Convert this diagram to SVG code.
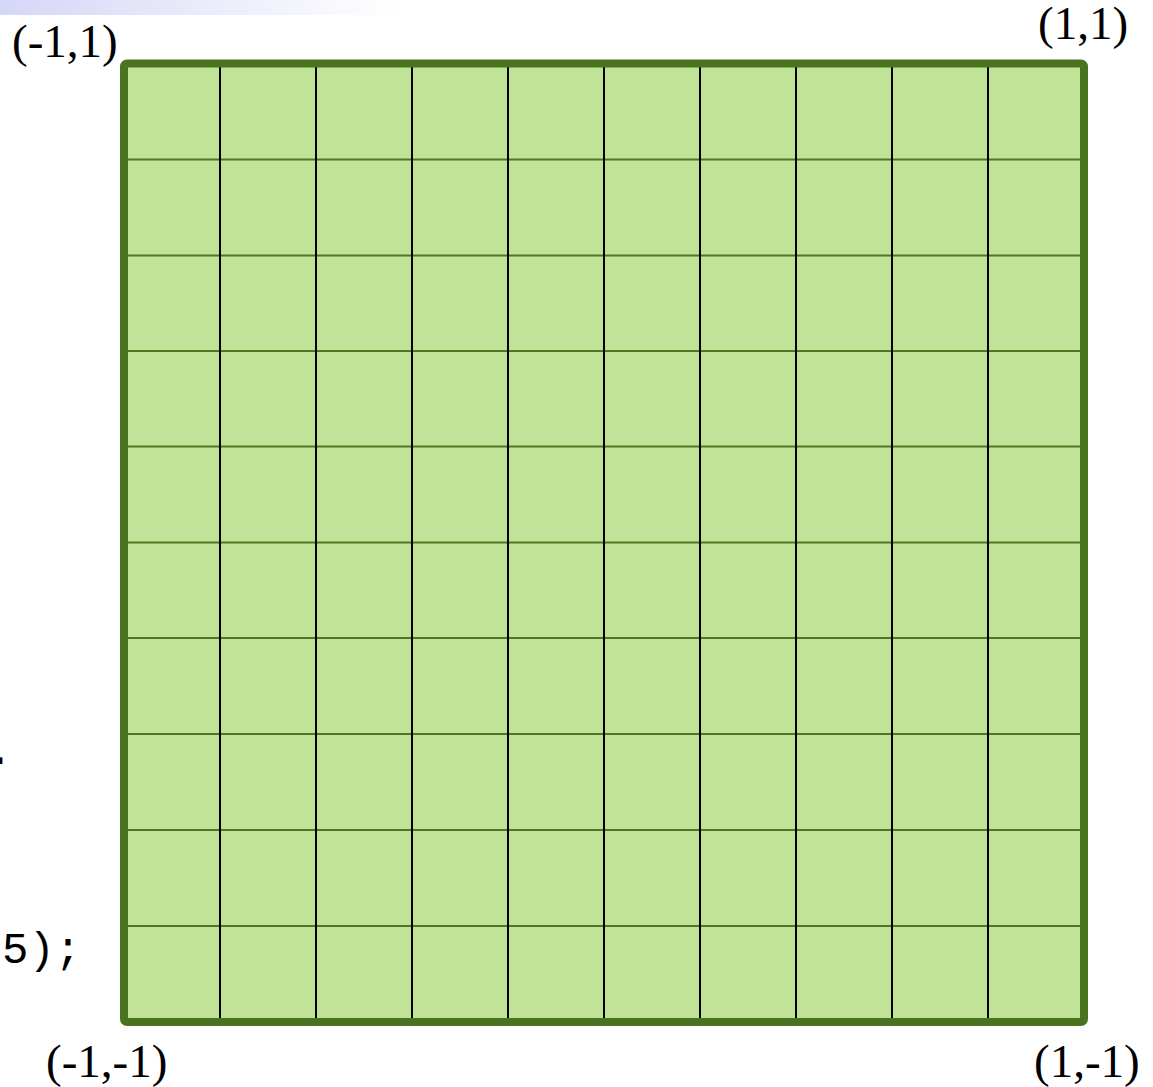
<svg xmlns="http://www.w3.org/2000/svg" width="1153" height="1087" viewBox="0 0 1153 1087">
<style>
.lbl{font-family:"Liberation Serif","Times New Roman",serif;font-size:47px;fill:#000}
.code{font-family:"Liberation Mono","Courier New",monospace;font-size:44px;fill:#000}
.v{stroke:#000;stroke-width:2}
.h{stroke:#4b7a1f;stroke-width:2}
</style>
<defs>
<linearGradient id="bar" x1="0" y1="0" x2="1" y2="0">
<stop offset="0" stop-color="#d6d6f7"/>
<stop offset="1" stop-color="#ffffff"/>
</linearGradient>
</defs>
<rect x="0" y="0" width="400" height="15" fill="url(#bar)"/>
<text class="code" x="-14" y="764" font-weight="bold">.</text>
<text class="code" x="2" y="963">5);</text>
<g id="square">
<rect x="124" y="63.5" width="960" height="958.5" rx="3" fill="#c0e398"/>
<g id="grid-h">
<line class="h" x1="128" y1="159.5" x2="1080" y2="159.5"/>
<line class="h" x1="128" y1="255.5" x2="1080" y2="255.5"/>
<line class="h" x1="128" y1="351" x2="1080" y2="351"/>
<line class="h" x1="128" y1="446.5" x2="1080" y2="446.5"/>
<line class="h" x1="128" y1="542.5" x2="1080" y2="542.5"/>
<line class="h" x1="128" y1="638" x2="1080" y2="638"/>
<line class="h" x1="128" y1="734" x2="1080" y2="734"/>
<line class="h" x1="128" y1="830" x2="1080" y2="830"/>
<line class="h" x1="128" y1="926" x2="1080" y2="926"/>
</g>
<g id="grid-v">
<line class="v" x1="220" y1="63" x2="220" y2="1022"/>
<line class="v" x1="316" y1="63" x2="316" y2="1022"/>
<line class="v" x1="412" y1="63" x2="412" y2="1022"/>
<line class="v" x1="508" y1="63" x2="508" y2="1022"/>
<line class="v" x1="604" y1="63" x2="604" y2="1022"/>
<line class="v" x1="700" y1="63" x2="700" y2="1022"/>
<line class="v" x1="796" y1="63" x2="796" y2="1022"/>
<line class="v" x1="892" y1="63" x2="892" y2="1022"/>
<line class="v" x1="988" y1="63" x2="988" y2="1022"/>
</g>
<rect x="124" y="63.5" width="960" height="958.5" rx="3" fill="none" stroke="#4a731f" stroke-width="8"/>
</g>
<g id="labels">
<text id="tl" class="lbl" x="12" y="57">(-1,1)</text>
<text id="tr" class="lbl" x="1038" y="39">(1,1)</text>
<text id="bl" class="lbl" x="46" y="1077">(-1,-1)</text>
<text id="br" class="lbl" x="1034" y="1077">(1,-1)</text>
</g>
</svg>
